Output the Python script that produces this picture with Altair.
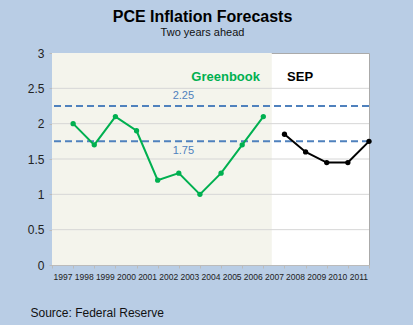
import altair as alt
import pandas as pd

# ---- data ----
years = [str(y) for y in range(1997, 2012)]
gb_years = [str(y) for y in range(1997, 2007)]
gb_values = [2.0, 1.7, 2.1, 1.9, 1.2, 1.3, 1.0, 1.3, 1.7, 2.1]
sep_years = [str(y) for y in range(2007, 2012)]
sep_values = [1.85, 1.6, 1.45, 1.45, 1.75]
grid_values = [0.5, 1.0, 1.5, 2.0, 2.5]
y_ticks = [0, 0.5, 1, 1.5, 2, 2.5, 3]
band_values = [1.75, 2.25]
band_labels = ["1.75", "2.25"]

FONT = "Liberation Sans"
GREEN = "#00B050"
BLUE = "#4F81BD"

gb = pd.DataFrame({"year": gb_years, "value": gb_values})
sep = pd.DataFrame({"year": sep_years, "value": sep_values})
grid = pd.DataFrame({"v": grid_values})
bands = pd.DataFrame({"v": band_values, "label": band_labels,
                      "ly": [1.61, 2.39], "year": ["2003", "2003"]})
shade = pd.DataFrame({"start": ["1997"], "end": ["2007"], "lo": [0], "hi": [3]})

xscale = alt.Scale(domain=years, paddingInner=0, paddingOuter=0)
yscale = alt.Scale(domain=[0, 3], nice=False)

xaxis = alt.Axis(
    labelAngle=0, tickBand="extent", labelFontSize=8.5, labelFont=FONT,
    labelColor="#222222", tickColor="#bbbbbb", tickSize=3, labelPadding=4,
    domainColor="#bbbbbb", grid=False,
    title="Source: Federal Reserve", titleFont=FONT, titleFontSize=12,
    titleFontWeight="normal", titleColor="#111111", titleAnchor="start",
    titleAlign="left", titleX=-22, titleY=51, titleBaseline="alphabetic",
)
yaxis = alt.Axis(
    values=y_ticks, format="~g", labelFontSize=12, labelFont=FONT,
    labelColor="#222222", tickColor="#bbbbbb", tickSize=3, labelPadding=5,
    domainColor="#bbbbbb", grid=False, title=None,
)

X = lambda bp=1: alt.X("year:O", scale=xscale, axis=xaxis, bandPosition=bp)
Y = alt.Y("value:Q", scale=yscale, axis=yaxis)

shade_layer = alt.Chart(shade).mark_rect(color="#F4F4EC").encode(
    x=alt.X("start:O", scale=xscale, axis=xaxis, bandPosition=0),
    x2=alt.X2("end", bandPosition=0.4),
    y=alt.Y("lo:Q", scale=yscale, axis=yaxis),
    y2="hi:Q",
)

grid_layer = alt.Chart(grid).mark_rule(color="#d6d6d6", strokeWidth=1).encode(
    y=alt.Y("v:Q", scale=yscale, axis=yaxis)
)

dash_layer = alt.Chart(bands).mark_rule(
    color=BLUE, strokeWidth=2, strokeDash=[7, 4]
).encode(y=alt.Y("v:Q", scale=yscale, axis=yaxis))

dash_text = alt.Chart(bands).mark_text(
    font=FONT, fontSize=11, color=BLUE, dx=-6
).encode(
    x=alt.X("year:O", scale=xscale, axis=xaxis),
    y=alt.Y("ly:Q", scale=yscale, axis=yaxis),
    text="label:N",
)

gb_line = alt.Chart(gb).mark_line(color=GREEN, strokeWidth=2).encode(x=X(), y=Y)
gb_pts = alt.Chart(gb).mark_circle(color=GREEN, size=28, opacity=1).encode(x=X(), y=Y)
sep_line = alt.Chart(sep).mark_line(color="#000000", strokeWidth=2).encode(x=X(), y=Y)
sep_pts = alt.Chart(sep).mark_circle(color="#000000", size=28, opacity=1).encode(x=X(), y=Y)

legend_df = pd.DataFrame({"year": ["2005", "2008"], "value": [2.66, 2.66],
                          "label": ["Greenbook", "SEP"]})
gb_label = alt.Chart(legend_df.iloc[[0]]).mark_text(
    font=FONT, fontSize=13, fontWeight="bold", color=GREEN, dx=-6
).encode(x=X(0.5), y=Y, text="label:N")
sep_label = alt.Chart(legend_df.iloc[[1]]).mark_text(
    font=FONT, fontSize=13, fontWeight="bold", color="#000000", dx=5
).encode(x=X(0.5), y=Y, text="label:N")

chart = alt.layer(
    shade_layer, grid_layer, dash_layer, dash_text,
    gb_line, gb_pts, sep_line, sep_pts, gb_label, sep_label,
).properties(
    width=317, height=212,
    background="#B9CDE5",
    autosize=alt.AutoSizeParams(type="none"),
    padding={"left": 52, "top": 53, "right": 44, "bottom": 60},
    title=alt.TitleParams(
        "PCE Inflation Forecasts", subtitle="Two years ahead",
        font=FONT, fontSize=16, fontWeight="bold", color="#000000",
        subtitleFont=FONT, subtitleFontSize=11, subtitleColor="#111111",
        subtitlePadding=2, anchor="middle", dx=-8, offset=9,
    ),
).configure_view(fill="#FFFFFF", stroke="#aaaaaa", strokeWidth=1)

chart.save("out.html", embed_options={"renderer": "svg", "actions": False})
